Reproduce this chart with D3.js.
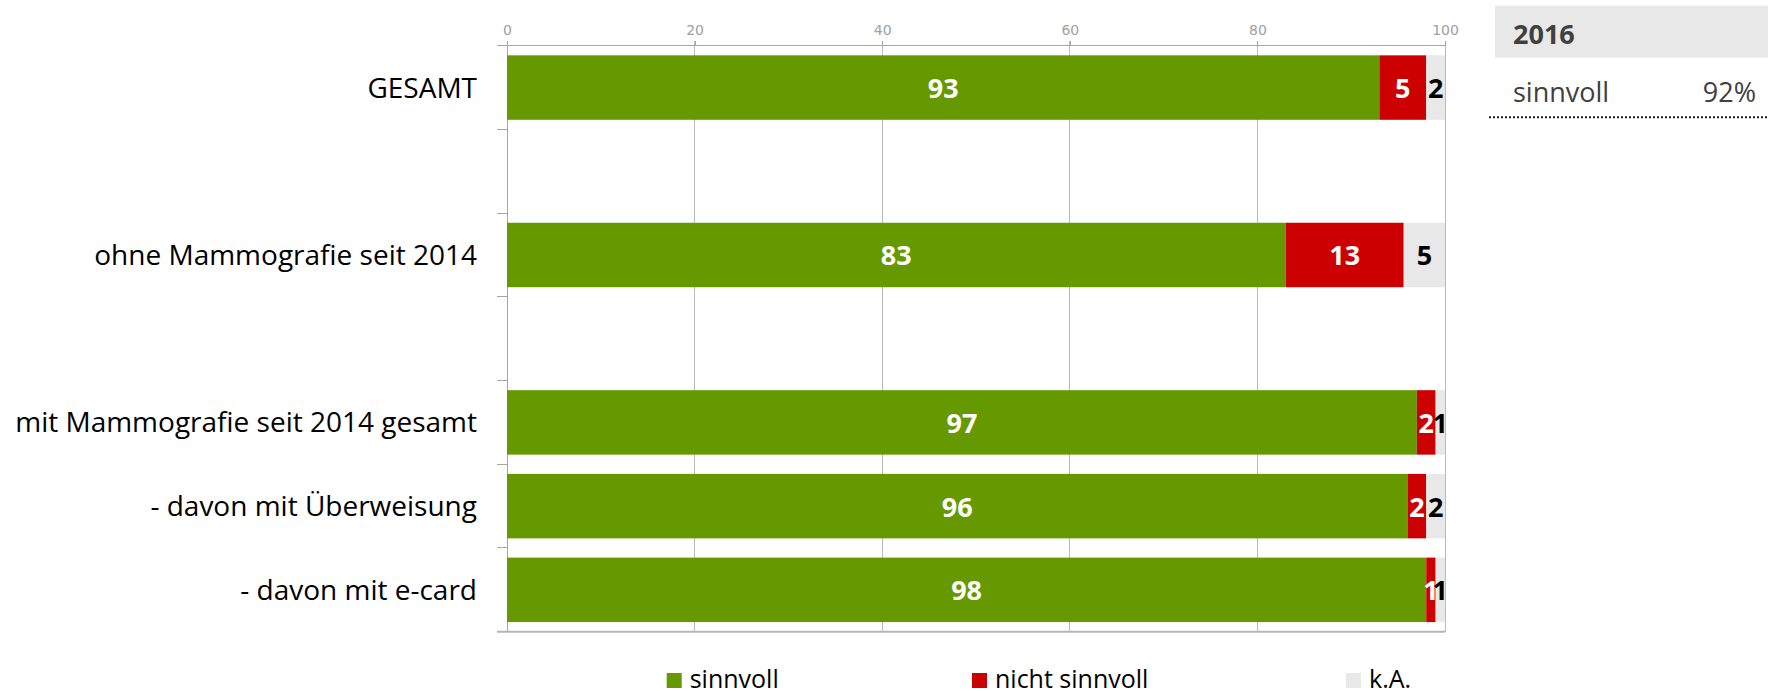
<!DOCTYPE html>
<html>
<head>
<meta charset="utf-8">
<script src="https://cdn.jsdelivr.net/npm/d3@7"></script>
<style>
  html, body { margin: 0; padding: 0; background: #fff; }
  svg { display: block; }
</style>
</head>
<body>
<script>
// ---- data ----
const categories = ["GESAMT", "", "ohne Mammografie seit 2014", "", "mit Mammografie seit 2014 gesamt", "- davon mit Überweisung", "- davon mit e-card"];
const sinnvoll      = [93, null, 83,   null, 97, 96, 98];
const nichtSinnvoll = [5,  null, 12.6, null, 2,  2,  1];
const keineAngabe   = [2,  null, 4.5,  null, 1,  2,  1];
const seriesNames   = ["sinnvoll", "nicht sinnvoll", "k.A."];
const xTicks        = [0, 20, 40, 60, 80, 100];
const boxYear  = "2016";
const boxLabel = "sinnvoll";
const boxValue = "92%";

const W = 1768, H = 691;
const colors = ["#669900", "#CC0000", "#E8E8E8"];
const labelColors = ["#ffffff", "#ffffff", "#000000"];
const FONT = "'Open Sans', 'Noto Sans', sans-serif";

const svg = d3.select("body").append("svg").attr("width", W).attr("height", H);

const x = d3.scaleLinear().domain([0, 100]).range([507, 1445]);
const y = d3.scaleBand().domain(d3.range(categories.length))
  .range([45.7, 631.7]).paddingInner(0.23).paddingOuter(0.115);

const step = y.step();
const y0 = y.range()[0];

// gridlines
svg.append("g").selectAll("line").data(xTicks.filter(t => t > 0)).join("line")
  .attr("x1", d => x(d)).attr("x2", d => x(d))
  .attr("y1", 41).attr("y2", 631.7)
  .attr("stroke", "#BBBBBB").attr("stroke-width", 1).attr("shape-rendering", "crispEdges");

// top axis
const topAxis = d3.axisTop(x).tickValues(xTicks).tickSize(5).tickPadding(6).tickFormat(d3.format("d"));
const gTop = svg.append("g").attr("transform", "translate(0,45.7)").call(topAxis);
gTop.select(".domain").remove();
gTop.append("line").attr("x1", 497).attr("x2", x(100)).attr("y1", 0).attr("y2", 0)
  .attr("stroke", "#A6A6A6").attr("shape-rendering", "crispEdges");
gTop.selectAll(".tick line").attr("stroke", "#A6A6A6").attr("shape-rendering", "crispEdges");
gTop.selectAll(".tick text").attr("fill", "#A0A0A0")
  .style("font-family", "'DejaVu Sans', sans-serif").style("font-size", "14px");

// left axis line and category boundary ticks
svg.append("line").attr("x1", x(0)).attr("x2", x(0)).attr("y1", 41).attr("y2", 631.7)
  .attr("stroke", "#A6A6A6").attr("shape-rendering", "crispEdges");
svg.append("g").selectAll("line").data(d3.range(categories.length)).join("line")
  .attr("x1", 497).attr("x2", x(0))
  .attr("y1", i => y0 + step * (i + 1)).attr("y2", i => y0 + step * (i + 1))
  .attr("stroke", "#A6A6A6").attr("shape-rendering", "crispEdges");

// stacked data
const rows = categories.map((c, i) => ({ i, c, v: [sinnvoll[i], nichtSinnvoll[i], keineAngabe[i]] }));
const segs = [];
rows.forEach(r => {
  if (r.v[0] == null) return;
  let acc = 0;
  r.v.forEach((v, k) => { segs.push({ i: r.i, k, v, a: acc, b: Math.min(100, acc + v) }); acc += v; });
});

svg.append("g").selectAll("rect").data(segs).join("rect")
  .attr("x", d => x(d.a)).attr("width", d => x(d.b) - x(d.a))
  .attr("y", d => y(d.i)).attr("height", y.bandwidth())
  .attr("fill", d => colors[d.k]);

// bottom axis line
svg.append("line").attr("x1", 497).attr("x2", x(100)).attr("y1", 631.7).attr("y2", 631.7)
  .attr("stroke", "#B5B5B5").attr("stroke-width", 2);

// value labels
svg.append("g").selectAll("text").data(segs).join("text")
  .attr("x", d => (x(d.a) + x(d.b)) / 2)
  .attr("y", d => y(d.i) + y.bandwidth() / 2 + 10.5)
  .attr("text-anchor", "middle")
  .attr("fill", d => labelColors[d.k])
  .style("font-family", FONT).style("font-size", "27px").style("font-weight", "bold")
  .text(d => Math.round(d.v));

// category labels
svg.append("g").selectAll("text").data(rows.filter(r => r.c)).join("text")
  .attr("x", 477).attr("y", r => y(r.i) + y.bandwidth() / 2 + 10)
  .attr("text-anchor", "end").attr("fill", "#000")
  .style("font-family", FONT).style("font-size", "28px")
  .text(r => r.c);

// legend
const legendX = [666.7, 972, 1346];
const lg = svg.append("g").selectAll("g").data(seriesNames).join("g")
  .attr("transform", (d, k) => `translate(${legendX[k]},673)`);
lg.append("rect").attr("width", 15).attr("height", 15).attr("fill", (d, k) => colors[k]);
lg.append("text").attr("x", 23).attr("y", 15.3)
  .attr("fill", "#000").style("font-family", FONT).style("font-size", "25px")
  .text(d => d);

// right info box
svg.append("rect").attr("x", 1495).attr("y", 5.7).attr("width", W - 1495).attr("height", 52)
  .attr("fill", "#E8E8E8");
svg.append("text").attr("x", 1513).attr("y", 44.3).attr("fill", "#404040")
  .style("font-family", FONT).style("font-size", "27px").style("font-weight", "bold")
  .text(boxYear);
svg.append("text").attr("x", 1513).attr("y", 101.7).attr("fill", "#404040")
  .style("font-family", FONT).style("font-size", "27px")
  .text(boxLabel);
svg.append("text").attr("x", 1756).attr("y", 101.7).attr("text-anchor", "end").attr("fill", "#404040")
  .style("font-family", FONT).style("font-size", "27px")
  .text(boxValue);
svg.append("line").attr("x1", 1489).attr("x2", W).attr("y1", 117.3).attr("y2", 117.3)
  .attr("stroke", "#222").attr("stroke-width", 2).attr("stroke-dasharray", "2,2");
</script>
</body>
</html>
